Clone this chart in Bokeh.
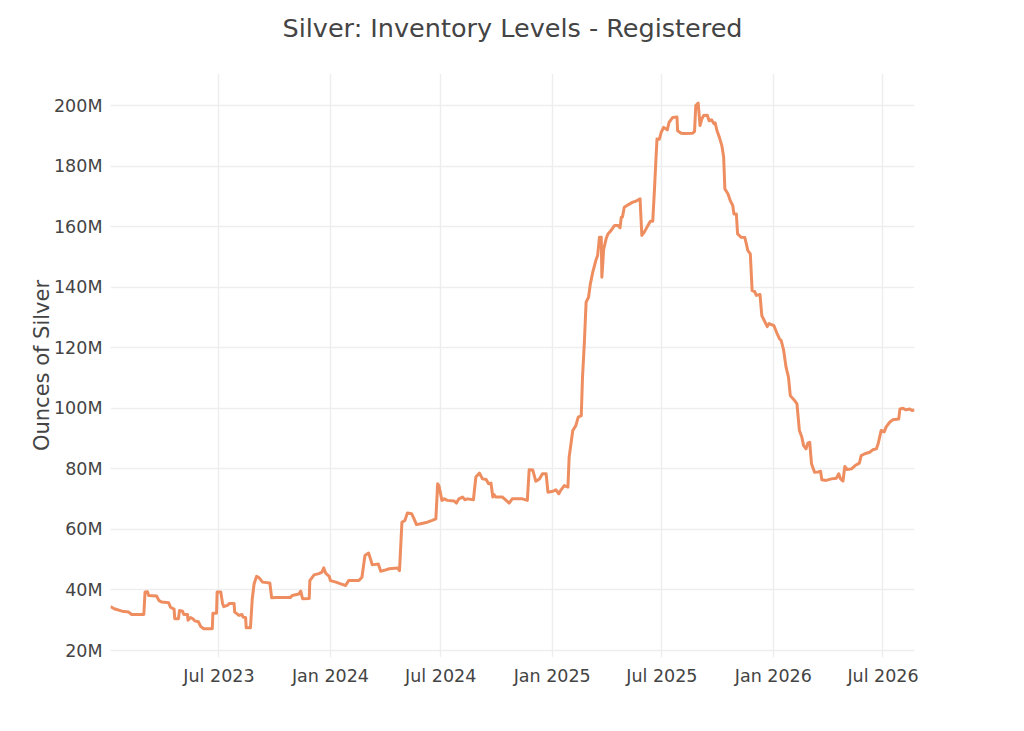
import pandas as pd
from bokeh.plotting import figure
from bokeh.models import Range1d, FixedTicker, DatetimeTickFormatter, PrintfTickFormatter, Title
from bokeh.embed import file_html
from bokeh.resources import INLINE

# ---- data (millions of ounces) ----
dates_2023 = ["2023-01-03", "2023-01-09", "2023-01-22", "2023-02-02", "2023-02-07", "2023-02-27",
              "2023-03-01", "2023-03-05", "2023-03-07", "2023-03-20", "2023-03-24", "2023-03-29",
              "2023-04-09", "2023-04-12", "2023-04-18", "2023-04-19", "2023-04-25", "2023-04-27",
              "2023-05-02", "2023-05-04", "2023-05-10", "2023-05-11", "2023-05-15", "2023-05-19",
              "2023-05-22", "2023-05-28", "2023-06-01", "2023-06-06", "2023-06-20", "2023-06-21",
              "2023-06-27", "2023-06-28", "2023-07-04", "2023-07-07", "2023-07-09", "2023-07-15",
              "2023-07-18", "2023-07-26", "2023-07-27", "2023-07-31", "2023-08-03", "2023-08-08",
              "2023-08-10", "2023-08-14", "2023-08-15", "2023-08-22", "2023-08-25", "2023-08-28",
              "2023-09-01", "2023-09-05", "2023-09-11", "2023-09-23", "2023-09-26", "2023-10-03",
              "2023-10-27", "2023-10-30", "2023-11-10", "2023-11-13", "2023-11-16", "2023-11-27",
              "2023-11-28", "2023-12-05", "2023-12-13", "2023-12-18", "2023-12-21", "2023-12-24",
              "2023-12-30"]
values_2023 = [34.5, 33.8, 33.0, 32.7, 31.9, 31.9,
               39.3, 39.4, 38.2, 38.0, 36.5, 36.0,
               35.8, 34.3, 33.7, 30.5, 30.5, 33.2,
               33.0, 31.9, 31.9, 30.0, 30.9, 30.5,
               29.8, 29.5, 27.9, 27.2, 27.2, 32.3,
               32.3, 39.3, 39.3, 35.5, 34.5, 34.9,
               35.5, 35.5, 32.7, 32.1, 31.6, 31.9,
               31.0, 30.9, 27.5, 27.5, 37.1, 42.0,
               44.5, 44.1, 42.6, 42.3, 37.4, 37.5,
               37.5, 38.2, 38.7, 39.6, 37.1, 37.2,
               43.1, 45.0, 45.4, 45.9, 47.3, 45.6,
               44.5]

dates_2024 = ["2024-01-01", "2024-01-10", "2024-01-18", "2024-01-26", "2024-01-31", "2024-02-17",
              "2024-02-22", "2024-02-27", "2024-03-04", "2024-03-08", "2024-03-10", "2024-03-20",
              "2024-03-24", "2024-03-30", "2024-04-07", "2024-04-21", "2024-04-24", "2024-04-28",
              "2024-05-03", "2024-05-07", "2024-05-14", "2024-05-18", "2024-05-22", "2024-05-29",
              "2024-06-09", "2024-06-17", "2024-06-23", "2024-06-26", "2024-06-28", "2024-07-03",
              "2024-07-07", "2024-07-12", "2024-07-23", "2024-07-27", "2024-07-31", "2024-08-06",
              "2024-08-10", "2024-08-14", "2024-08-24", "2024-08-28", "2024-09-03", "2024-09-08",
              "2024-09-14", "2024-09-18", "2024-09-22", "2024-09-25", "2024-09-27", "2024-09-30",
              "2024-10-11", "2024-10-17", "2024-10-22", "2024-10-27", "2024-11-13", "2024-11-21",
              "2024-11-24", "2024-11-30", "2024-12-05", "2024-12-11", "2024-12-16", "2024-12-22",
              "2024-12-25"]
values_2024 = [43.1, 42.6, 42.0, 41.5, 43.1, 43.1,
               44.2, 51.4, 52.2, 49.7, 48.3, 48.6,
               46.2, 46.5, 47.0, 47.3, 46.4, 62.4,
               63.0, 65.4, 65.2, 63.5, 61.6, 61.9,
               62.4, 63.0, 63.5, 75.1, 74.5, 69.6,
               70.1, 69.6, 69.4, 68.7, 70.1, 70.7,
               69.8, 70.1, 69.8, 77.3, 78.6, 76.7,
               76.5, 75.1, 75.3, 70.7, 71.5, 70.7,
               70.7, 69.6, 68.7, 70.1, 70.1, 69.6,
               79.7, 79.6, 75.9, 76.7, 78.4, 78.4,
               72.3]

dates_2025 = ["2025-01-02", "2025-01-07", "2025-01-12", "2025-01-15", "2025-01-21", "2025-01-27",
              "2025-01-29", "2025-02-04", "2025-02-09", "2025-02-13", "2025-02-18", "2025-02-20",
              "2025-02-23", "2025-02-26", "2025-03-02", "2025-03-05", "2025-03-09", "2025-03-14",
              "2025-03-17", "2025-03-20", "2025-03-23", "2025-03-24", "2025-03-27", "2025-03-31",
              "2025-04-03", "2025-04-08", "2025-04-14", "2025-04-20", "2025-04-23", "2025-04-25",
              "2025-04-27", "2025-04-30", "2025-05-07", "2025-05-14", "2025-05-19", "2025-05-26",
              "2025-05-29", "2025-06-02", "2025-06-08", "2025-06-12", "2025-06-16", "2025-06-19",
              "2025-06-21", "2025-06-23", "2025-06-27", "2025-06-30", "2025-07-04", "2025-07-10",
              "2025-07-13", "2025-07-19", "2025-07-26", "2025-07-27", "2025-08-02", "2025-08-07",
              "2025-08-21", "2025-08-24", "2025-08-26", "2025-08-30", "2025-09-02", "2025-09-05",
              "2025-09-08", "2025-09-14", "2025-09-17", "2025-09-21", "2025-09-25", "2025-09-27",
              "2025-09-30", "2025-10-04", "2025-10-08", "2025-10-11", "2025-10-13", "2025-10-18",
              "2025-10-22", "2025-10-26", "2025-10-28", "2025-11-01", "2025-11-03", "2025-11-09",
              "2025-11-15", "2025-11-20", "2025-11-24", "2025-11-27", "2025-12-01", "2025-12-04",
              "2025-12-10", "2025-12-13", "2025-12-17", "2025-12-22", "2025-12-25"]
values_2025 = [72.6, 73.1, 71.8, 72.9, 74.5, 74.0,
               83.9, 92.7, 94.3, 97.1, 97.6, 110.0,
               121.3, 135.1, 136.7, 141.1, 145.0, 148.8,
               150.5, 156.5, 156.5, 143.3, 152.6, 156.0,
               157.6, 158.7, 160.4, 160.4, 159.6, 163.1,
               163.2, 166.4, 167.3, 168.1, 168.4, 169.2,
               157.1, 158.2, 160.4, 161.8, 161.8, 173.0,
               181.3, 189.0, 188.9, 191.2, 192.8, 192.0,
               194.5, 196.1, 196.2, 191.7, 190.9, 190.8,
               190.9, 191.5, 200.0, 200.8, 193.4, 195.6,
               196.7, 196.8, 195.0, 195.3, 194.0, 194.3,
               191.7, 189.5, 186.8, 183.0, 172.5, 170.9,
               168.6, 167.0, 164.2, 164.2, 157.6, 156.5,
               156.4, 152.1, 151.0, 138.9, 138.6, 137.3,
               137.6, 130.6, 129.0, 127.0, 128.0]

dates_2026 = ["2026-01-02", "2026-01-07", "2026-01-11", "2026-01-14", "2026-01-18", "2026-01-22",
              "2026-01-26", "2026-01-29", "2026-02-05", "2026-02-09", "2026-02-13", "2026-02-17",
              "2026-02-20", "2026-02-24", "2026-02-27", "2026-03-02", "2026-03-05", "2026-03-10",
              "2026-03-16", "2026-03-20", "2026-03-22", "2026-03-29", "2026-04-07", "2026-04-15",
              "2026-04-19", "2026-04-22", "2026-04-26", "2026-04-29", "2026-05-03", "2026-05-10",
              "2026-05-16", "2026-05-23", "2026-05-26", "2026-06-01", "2026-06-09", "2026-06-14",
              "2026-06-20", "2026-06-23", "2026-06-28", "2026-07-03", "2026-07-06", "2026-07-12",
              "2026-07-17", "2026-07-27", "2026-07-29", "2026-08-03", "2026-08-08", "2026-08-14",
              "2026-08-18", "2026-08-22"]
values_2026 = [127.3, 124.8, 123.0, 122.4, 119.2, 113.6,
               110.3, 104.2, 102.6, 101.5, 92.7, 90.5,
               87.7, 86.6, 88.5, 88.8, 81.7, 78.9,
               79.0, 79.2, 76.4, 76.2, 76.7, 76.9,
               78.4, 76.7, 76.0, 80.8, 79.8, 80.0,
               81.1, 81.9, 84.4, 85.0, 85.5, 86.3,
               86.6, 88.3, 92.7, 92.2, 93.8, 95.4,
               96.2, 96.5, 99.8, 100.0, 99.5, 99.8,
               99.3, 99.5]

x_tick_dates = ["2023-07-01", "2024-01-01", "2024-07-01", "2025-01-01",
                "2025-07-01", "2026-01-01", "2026-07-01"]
y_ticks = [20, 40, 60, 80, 100, 120, 140, 160, 180, 200]

TITLE = "Silver: Inventory Levels - Registered"
Y_LABEL = "Ounces of Silver"

# ---- build ----
dates = pd.to_datetime(dates_2023 + dates_2024 + dates_2025 + dates_2026)
values = values_2023 + values_2024 + values_2025 + values_2026

FONT = "DejaVu Sans"
TXT = "#444444"

p = figure(width=1016, height=715, x_axis_type="datetime",
           output_backend="svg", toolbar_location=None,
           x_range=Range1d(dates.min(), dates.max()),
           y_range=Range1d(17.7, 210.6),
           min_border_left=110, min_border_right=102,
           min_border_top=73, min_border_bottom=58,
           title=TITLE)

p.outline_line_color = None
p.background_fill_color = "white"
p.border_fill_color = "white"

p.title.align = "center"
p.title.text_font = FONT
p.title.text_font_size = "25.5px"
p.title.text_font_style = "normal"
p.title.text_color = TXT
p.title.standoff = 0

# thin spacer between the plot area and the title
p.add_layout(Title(text=" ", text_font_size="1px", standoff=28), "above")

tick_ms = [float(t) for t in (pd.to_datetime(x_tick_dates).astype("int64") // 10**6)]
p.xaxis.ticker = FixedTicker(ticks=tick_ms)
p.xaxis.formatter = DatetimeTickFormatter(
    milliseconds="%b %Y", seconds="%b %Y", minsec="%b %Y", minutes="%b %Y",
    hourmin="%b %Y", hours="%b %Y", days="%b %Y", months="%b %Y", years="%b %Y")
p.yaxis.ticker = FixedTicker(ticks=y_ticks)
p.yaxis.formatter = PrintfTickFormatter(format="%dM")

for ax in (p.xaxis, p.yaxis):
    ax.axis_line_color = None
    ax.major_tick_line_color = None
    ax.minor_tick_line_color = None
    ax.major_tick_in = 0
    ax.major_tick_out = 0
    ax.major_label_text_font = FONT
    ax.major_label_text_font_size = "17.5px"
    ax.major_label_text_color = TXT
    ax.axis_label_text_font = FONT
    ax.axis_label_text_font_size = "21px"
    ax.axis_label_text_font_style = "normal"
    ax.axis_label_text_color = TXT

p.xaxis.major_label_standoff = 8
p.yaxis.major_label_standoff = 8
p.yaxis.axis_label = Y_LABEL
p.yaxis.axis_label_standoff = -3

p.xgrid.grid_line_color = "#eeeeee"
p.ygrid.grid_line_color = "#eeeeee"
p.xgrid.grid_line_width = 1.5
p.ygrid.grid_line_width = 1.5

p.line(dates, values, line_color="#EE8E60", line_width=3, line_join="round")

open("out.html", "w").write(file_html(p, INLINE))
